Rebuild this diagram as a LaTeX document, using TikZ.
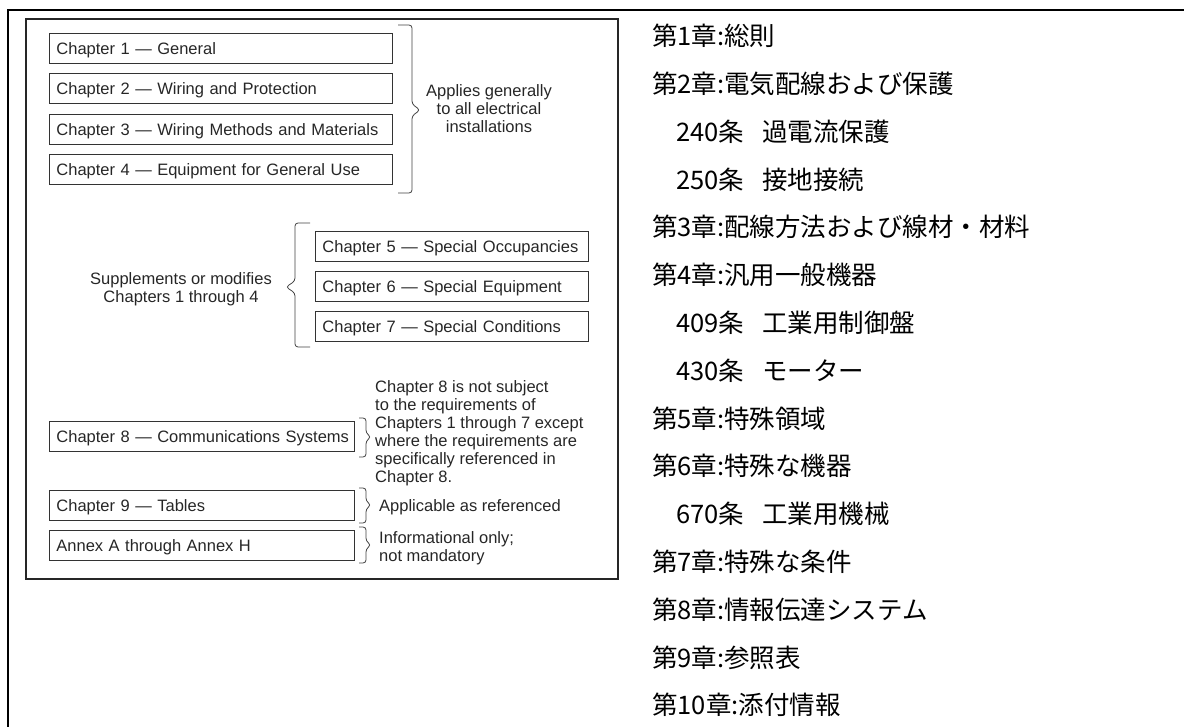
\documentclass[tikz,border=0pt]{standalone}
\usepackage{fontspec}
\setmainfont{Liberation Sans}
\newfontfamily\jpfont{Noto Sans CJK JP}
\usetikzlibrary{calc}

\begin{document}
\begin{tikzpicture}[x=1pt,y=-1pt,
  chbox/.style={draw=black!80, line width=0.9pt, anchor=north west, minimum height=30pt,
    inner xsep=7pt, inner ysep=0pt, text width=#1, text height=13.5pt, text depth=2pt,
    align=left, text=black!85, font=\fontsize{16.5}{18}\selectfont},
  note/.style={inner sep=0pt, text=black!85, font=\fontsize{16.5}{18}\selectfont},
  brc/.style={draw=black!75, line width=0.8pt, rounded corners=3pt},
  jp/.style={anchor=west, inner sep=0pt, font=\jpfont\fontsize{25.5}{25.5}\selectfont}]
\useasboundingbox (0,0) rectangle (1184,727);
% outer frame
\draw[line width=2.4pt] (8,727) -- (8,10) -- (1184,10);
% inner frame
\draw[line width=1.5pt, black!85] (26,19) rectangle (618,579);

% chapter boxes
\node[chbox=329pt] (ch1) at (49,33) {Chapter 1 --- General};
\node[chbox=329pt] (ch2) at (49,73.5) {Chapter 2 --- Wiring and Protection};
\node[chbox=329pt] (ch3) at (49,114) {Chapter 3 --- Wiring Methods and Materials};
\node[chbox=329pt] (ch4) at (49,154.5) {Chapter 4 --- Equipment for General Use};
\node[chbox=259pt] (ch5) at (315,231) {Chapter 5 --- Special Occupancies};
\node[chbox=259pt] (ch6) at (315,271) {Chapter 6 --- Special Equipment};
\node[chbox=259pt] (ch7) at (315,311) {Chapter 7 --- Special Conditions};
\node[chbox=291pt] (ch8) at (49,421) {\mbox{Chapter 8 --- Communications Systems}};
\node[chbox=291pt] (ch9) at (49,490) {Chapter 9 --- Tables};
\node[chbox=291pt] (annex) at (49,530) {Annex A through Annex H};

% braces
\draw[brc] (398,25) -- (412,25) -- (412,104) -- (420,110) -- (412,116) -- (412,193) -- (398,193);
\draw[brc] (310,223) -- (295,223) -- (295,281) -- (286,287) -- (295,293) -- (295,347) -- (310,347);
\foreach \a/\m/\b in {418/437/457, 488/505/523, 527/545/563}
  \draw[brc] (359,\a) -- (366,\a) -- (366,\m-4) -- (371,\m) -- (366,\m+4) -- (366,\b) -- (359,\b);

% notes
\node[note, align=center] (apply) at (489,109) {Applies generally\\to all electrical\\installations};
\node[note, align=center] (supp) at (181,289) {Supplements or modifies\\Chapters 1 through 4};
\node[note, align=left, anchor=west] (ch8note) at (375,433.5) {Chapter 8 is not subject\\to the requirements of\\Chapters 1 through 7 except\\where the requirements are\\specifically referenced in\\Chapter 8.};
\node[note, anchor=west] (ch9note) at (379,507) {Applicable as referenced};
\node[note, align=left, anchor=west] (annexnote) at (379,548.5) {Informational only;\\not mandatory};

% japanese list
\foreach \ind/\txt [count=\i] in {0/第1章:総則, 0/第2章:電気配線および保護,
    24/240条\hspace{18pt}過電流保護, 24/250条\hspace{18pt}接地接続,
    0/第3章:配線方法および線材・材料, 0/第4章:汎用一般機器,
    24/409条\hspace{18pt}工業用制御盤, 24/430条\hspace{18pt}モーター,
    0/第5章:特殊領域, 0/第6章:特殊な機器, 24/670条\hspace{18pt}工業用機械,
    0/第7章:特殊な条件, 0/第8章:情報伝達システム, 0/第9章:参照表, 0/第10章:添付情報}
  \node[jp] (jp\i) at (652+\ind,36+47.8*\i-47.8) {\txt};
\end{tikzpicture}
\end{document}
